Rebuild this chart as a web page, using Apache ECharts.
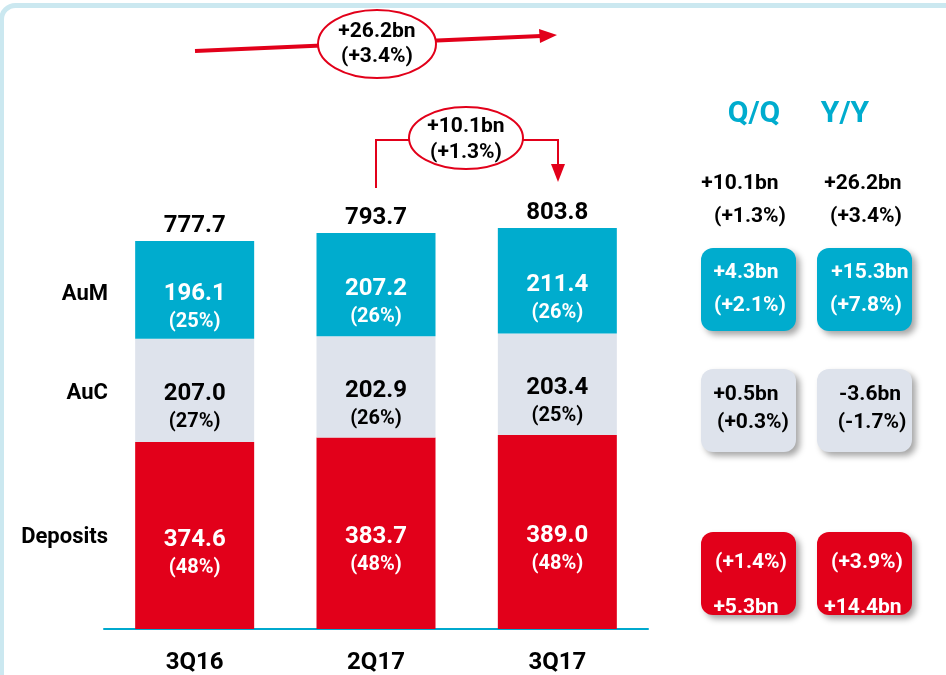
<!DOCTYPE html>
<html>
<head>
<meta charset="utf-8">
<script src="https://cdn.jsdelivr.net/npm/echarts@6/dist/echarts.min.js"></script>
<style>
html, body { margin: 0; padding: 0; background: #fff; }
#chart { width: 946px; height: 675px; }
</style>
</head>
<body>
<div id="chart"></div>
<script>
var quarters = ['3Q16', '2Q17', '3Q17'];
var deposits = [374.6, 383.7, 389.0];
var auc = [207.0, 202.9, 203.4];
var aum = [196.1, 207.2, 211.4];
var depositsPct = [48, 48, 48];
var aucPct = [27, 26, 25];
var aumPct = [25, 26, 26];
var totals = [777.7, 793.7, 803.8];

var segmentNames = ['AuM', 'AuC', 'Deposits'];
// change boxes: [bn, pct] for Q/Q and Y/Y
var qqTotal = ['+10.1bn', '(+1.3%)'];
var yyTotal = ['+26.2bn', '(+3.4%)'];
var qqChange = [['+4.3bn', '(+2.1%)'], ['+0.5bn', '(+0.3%)'], ['+5.3bn', '(+1.4%)']];
var yyChange = [['+15.3bn', '(+7.8%)'], ['-3.6bn', '(-1.7%)'], ['+14.4bn', '(+3.9%)']];

var RED = '#e2001a';
var CYAN = '#00acce';
var GREY = '#dee3ec';
var FONT = 'Roboto';

var myChart = echarts.init(document.getElementById('chart'));

function segLabel(pcts, color) {
    return {
        show: true,
        position: 'inside',
        offset: [0, 18],
        formatter: function (p) {
            return '{v|' + p.value.toFixed(1) + '}\n{p|(' + pcts[p.dataIndex] + '%)}';
        },
        rich: {
            v: {color: color, fontFamily: FONT, fontWeight: 'bold', fontSize: 24, lineHeight: 28},
            p: {color: color, fontFamily: FONT, fontWeight: 'bold', fontSize: 20, lineHeight: 28}
        }
    };
}

function txt(x, y, s, size, color, align) {
    return {
        type: 'text', x: x, y: y, z: 20,
        style: {
            text: s, fill: color || '#000', fontFamily: FONT, fontWeight: 'bold',
            fontSize: size, align: align || 'center', verticalAlign: 'middle'
        }
    };
}

function box(x, y, color) {
    return {
        type: 'rect', z: 10,
        shape: {x: x, y: y, width: 95, height: 83, r: 12},
        style: {fill: color, shadowBlur: 6, shadowOffsetX: 4, shadowOffsetY: 4, shadowColor: 'rgba(0,0,0,0.35)'}
    };
}

var graphics = [
    // frame
    {type: 'rect', z: 0, shape: {x: 1.5, y: 5.5, width: 1000, height: 720, r: 14},
        style: {fill: 'none', stroke: '#cbe8f0', lineWidth: 5}},
    // top arrow (Y/Y)
    {type: 'polyline', z: 5, shape: {points: [[195, 51], [541, 36]]}, style: {stroke: RED, lineWidth: 4}},
    {type: 'polygon', z: 5, shape: {points: [[539, 29], [557, 35], [540, 43]]}, style: {fill: RED}},
    {type: 'ellipse', z: 6, shape: {cx: 377, cy: 44, rx: 59, ry: 34}, style: {fill: '#fff', stroke: RED, lineWidth: 2}},
    txt(377, 32, yyTotal[0], 21), txt(377, 57, yyTotal[1], 21),
    // bracket arrow (Q/Q)
    {type: 'polyline', z: 5, shape: {points: [[376, 188], [376, 140], [558, 140], [558, 166]]}, style: {stroke: RED, lineWidth: 2}},
    {type: 'polygon', z: 5, shape: {points: [[551, 164], [565, 164], [558, 182]]}, style: {fill: RED}},
    {type: 'ellipse', z: 6, shape: {cx: 466, cy: 138, rx: 57, ry: 31}, style: {fill: '#fff', stroke: RED, lineWidth: 2}},
    txt(466, 127, qqTotal[0], 21), txt(466, 153, qqTotal[1], 21),
    // segment names
    txt(108, 294, segmentNames[0], 22, '#000', 'right'),
    txt(108, 393, segmentNames[1], 22, '#000', 'right'),
    txt(108, 537, segmentNames[2], 22, '#000', 'right'),
    // right panel
    txt(754, 114, 'Q/Q', 30, CYAN), txt(845, 114, 'Y/Y', 30, CYAN),
    txt(740, 184, qqTotal[0], 21), txt(750, 217, qqTotal[1], 21),
    txt(863, 184, yyTotal[0], 21), txt(866, 217, yyTotal[1], 21),
    box(701, 248, CYAN), box(817, 248, CYAN),
    txt(746, 273, qqChange[0][0], 21, '#fff'), txt(750, 306, qqChange[0][1], 21, '#fff'),
    txt(870, 273, yyChange[0][0], 21, '#fff'), txt(866, 306, yyChange[0][1], 21, '#fff'),
    box(701, 369, GREY), box(817, 369, GREY),
    txt(746, 395, qqChange[1][0], 21), txt(753, 423, qqChange[1][1], 21),
    txt(870, 395, yyChange[1][0], 21), txt(872, 423, yyChange[1][1], 21),
    box(701, 532, RED), box(817, 532, RED),
    txt(751, 563, qqChange[2][1], 21, '#fff'), txt(746, 608, qqChange[2][0], 21, '#fff'),
    txt(867, 563, yyChange[2][1], 21, '#fff'), txt(863, 608, yyChange[2][0], 21, '#fff')
];

option = {
    animation: false,
    grid: {left: 104, right: 298, top: 130, bottom: 45},
    xAxis: {
        type: 'category',
        data: quarters,
        axisLine: {lineStyle: {color: '#00a9ce', width: 2}},
        axisTick: {show: false},
        axisLabel: {color: '#000', fontFamily: FONT, fontWeight: 'bold', fontSize: 24, margin: 22}
    },
    yAxis: {
        type: 'value', min: 0, max: 1000,
        show: false, splitLine: {show: false}
    },
    series: [
        {
            name: 'Deposits', type: 'bar', stack: 'total', barWidth: 119,
            itemStyle: {color: RED}, data: deposits,
            label: segLabel(depositsPct, '#fff')
        },
        {
            name: 'AuC', type: 'bar', stack: 'total',
            itemStyle: {color: GREY}, data: auc,
            label: segLabel(aucPct, '#000')
        },
        {
            name: 'AuM', type: 'bar', stack: 'total',
            itemStyle: {color: CYAN}, data: aum,
            label: segLabel(aumPct, '#fff')
        },
        {
            name: 'Total', type: 'scatter', symbolSize: 0, data: totals,
            itemStyle: {opacity: 1},
            label: {
                show: true, position: 'top', distance: 3,
                formatter: function (p) { return p.value.toFixed(1); },
                color: '#000', fontFamily: FONT, fontWeight: 'bold', fontSize: 24
            }
        }
    ],
    graphic: graphics
};

myChart.setOption(option);
</script>
</body>
</html>
